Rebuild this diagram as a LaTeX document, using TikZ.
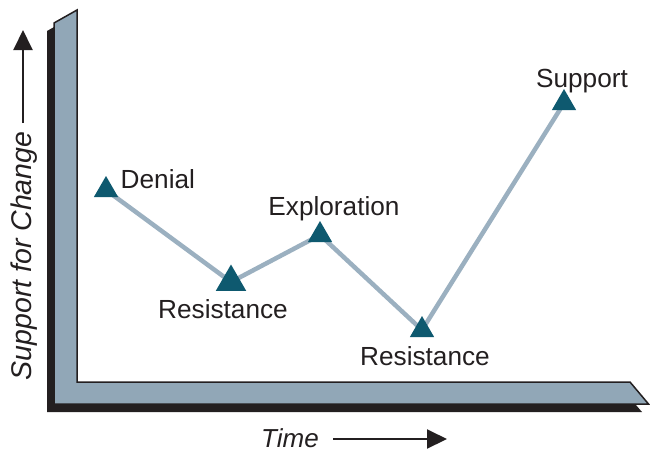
\documentclass[tikz,border=0pt]{standalone}
\usepackage{fontspec}
\setmainfont{Liberation Sans}
\usetikzlibrary{arrows.meta,shapes.geometric}
\definecolor{facecol}{RGB}{145,167,183}
\definecolor{ink}{RGB}{35,31,32}
\definecolor{tealc}{RGB}{14,89,111}
\definecolor{linec}{RGB}{155,176,192}
\pgfdeclarelayer{bg}
\pgfsetlayers{bg,main}
\begin{document}
\begin{tikzpicture}[x=1pt,y=-1pt,
  tri/.style={regular polygon, regular polygon sides=3, fill=tealc, draw=none, inner sep=0pt, minimum size=28pt},
  bigtri/.style={minimum size=35pt},
  lbl/.style={font=\fontsize{26.2}{30}\selectfont, text=ink, inner sep=0pt},
  axl/.style={font=\fontsize{26}{30}\selectfont\itshape, text=ink, inner sep=0pt},
  yaxl/.style={font=\fontsize{28.5}{32}\selectfont\itshape, text=ink, inner sep=0pt},
  conn/.style={draw=linec, line width=4.5pt, line join=round},
  axarrow/.style={draw=ink, line width=2pt, -{Triangle[length=20pt,width=19pt]}}]
\useasboundingbox (0,0) rectangle (650,451);

% triangles (markers)
\node[tri] (den) at (106,190) {};
\node[tri, bigtri] (res1) at (231,282) {};
\node[tri] (exp) at (320,235) {};
\node[tri] (res2) at (422,330) {};
\node[tri] (sup) at (564,103) {};

\begin{pgfonlayer}{bg}
  % L-shaped frame: shadow then face
  \fill[ink] (47,31) -- (70,18) -- (70,390) -- (623,390) -- (642,412) -- (47,412) -- cycle;
  \filldraw[fill=facecol, draw=ink, line width=1.5pt, line join=miter]
    (54,23) -- (77,10) -- (77,382) -- (630,382) -- (648.5,404) -- (54,404) -- cycle;
  % connectors
  \draw[conn] (den.center) -- (res1.center) -- (exp.center) -- (res2.center) -- (sup.center);
\end{pgfonlayer}

% labels
\node[lbl, anchor=base west] (tden) at (120.5,188) {Denial};
\node[lbl, anchor=base] (texp) at (334,215) {Exploration};
\node[lbl, anchor=base] (tres1) at (223,318) {Resistance};
\node[lbl, anchor=base] (tres2) at (425,365) {Resistance};
\node[lbl, anchor=base] (tsup) at (582,87) {Support};

% axes
\node[yaxl, rotate=90] (ylab) at (24,256) {Support for Change};
\coordinate (ys) at (23,123);
\coordinate (ye) at (23,30);
\draw[axarrow] (ys) -- (ye);
\node[axl, anchor=base] (xlab) at (290,447) {Time};
\coordinate (xs) at (333,439);
\coordinate (xe) at (447,439);
\draw[axarrow] (xs) -- (xe);
\end{tikzpicture}
\end{document}
